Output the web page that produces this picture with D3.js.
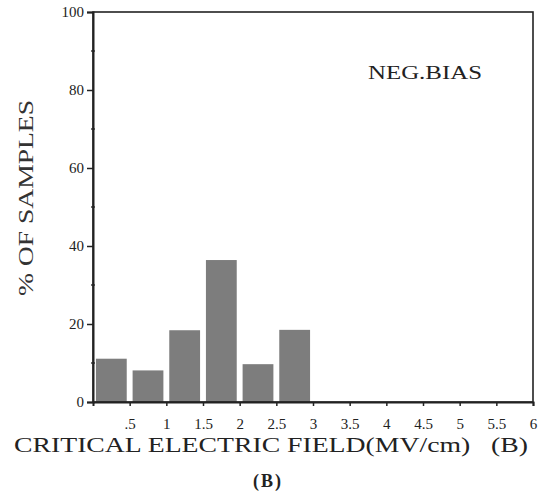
<!DOCTYPE html>
<html>
<head>
<meta charset="utf-8">
<script src="https://cdn.jsdelivr.net/npm/d3@7"></script>
<style>
  body { margin: 0; background: #fff; }
  text { font-family: "Liberation Serif", serif; fill: #222; }
</style>
</head>
<body>
<div id="chart"></div>
<script>
const svgWidth = 542
const svgHeight = 500

// bins of 0.5 MV/cm, value = % of samples
const binStarts = [0, 0.5, 1, 1.5, 2, 2.5]
const percents = [11.1, 8.1, 18.4, 36.4, 9.7, 18.5]
const xTicks = [0.5, 1, 1.5, 2, 2.5, 3, 3.5, 4, 4.5, 5, 5.5, 6]
const xTickLabels = [".5", "1", "1.5", "2", "2.5", "3", "3.5", "4", "4.5", "5", "5.5", "6"]
const yTicks = [0, 20, 40, 60, 80, 100]
const yMinorTicks = [10, 30, 50, 70, 90]

let margin = { top: 12, right: 9, bottom: 98, left: 93 }

let svg = d3.select("#chart")
  .append("svg")
  .attr("width", svgWidth)
  .attr("height", svgHeight)

let x = d3.scaleLinear()
  .domain([0, 6])
  .range([margin.left, svgWidth - margin.right])

let y = d3.scaleLinear()
  .domain([0, 100])
  .range([svgHeight - margin.bottom, margin.top])

// bars
svg.append("g")
  .selectAll("rect")
  .data(binStarts)
  .enter()
  .append("rect")
  .attr("x", d => x(d + 0.04))
  .attr("width", d => x(d + 0.46) - x(d + 0.04))
  .attr("y", (d, i) => y(percents[i]))
  .attr("height", (d, i) => y(0) - y(percents[i]))
  .attr("fill", "#7d7d7d")

// frame
svg.append("rect")
  .attr("x", x(0))
  .attr("y", y(100))
  .attr("width", x(6) - x(0))
  .attr("height", y(0) - y(100))
  .attr("fill", "none")
  .attr("stroke", "#222")
  .attr("stroke-width", 1.6)

// x axis
let xAxis = d3.axisBottom(x)
  .tickValues(xTicks)
  .tickSize(4)
  .tickFormat((d, i) => xTickLabels[i])

let xg = svg.append("g")
  .attr("transform", `translate(0, ${y(0)})`)
  .call(xAxis)
xg.select(".domain").attr("stroke", "#222").attr("stroke-width", 2)
xg.selectAll(".tick line").attr("stroke", "#222").attr("stroke-width", 1.5)
xg.selectAll(".tick text")
  .attr("y", 16)
  .attr("dy", "0.71em")
  .style("font-family", "'Liberation Serif', serif")
  .style("font-size", "15px")
  .attr("fill", "#222")

// y axis
let yAxis = d3.axisLeft(y)
  .tickValues(yTicks)
  .tickSize(6)
  .tickPadding(3)

let yg = svg.append("g")
  .attr("transform", `translate(${x(0)}, 0)`)
  .call(yAxis)
yg.select(".domain").attr("stroke", "#222").attr("stroke-width", 2)
yg.selectAll(".tick line").attr("stroke", "#222").attr("stroke-width", 1.5)
yg.selectAll(".tick text")
  .style("font-family", "'Liberation Serif', serif")
  .style("font-size", "15px")
  .attr("fill", "#222")

svg.append("g")
  .selectAll("line")
  .data(yMinorTicks)
  .enter()
  .append("line")
  .attr("x1", x(0) - 2)
  .attr("x2", x(0) + 2)
  .attr("y1", d => y(d))
  .attr("y2", d => y(d))
  .attr("stroke", "#222")
  .attr("stroke-width", 1.3)

// labels
svg.append("text")
  .attr("x", 425)
  .attr("y", 79)
  .attr("text-anchor", "middle")
  .attr("textLength", 114)
  .attr("lengthAdjust", "spacingAndGlyphs")
  .style("font-size", "19px")
  .text("NEG.BIAS")

svg.append("text")
  .attr("transform", `translate(33, 198) rotate(-90)`)
  .attr("text-anchor", "middle")
  .attr("textLength", 196)
  .attr("lengthAdjust", "spacingAndGlyphs")
  .style("font-size", "20px")
  .style("fill", "#333")
  .text("% OF SAMPLES")

svg.append("text")
  .attr("x", 14)
  .attr("y", 452)
  .attr("textLength", 514)
  .attr("lengthAdjust", "spacingAndGlyphs")
  .style("font-size", "20px")
  .style("white-space", "pre")
  .text("CRITICAL ELECTRIC FIELD(MV/cm)   (B)")

svg.append("text")
  .attr("x", 268)
  .attr("y", 487)
  .attr("text-anchor", "middle")
  .style("font-size", "18px")
  .style("font-weight", "bold")
  .style("letter-spacing", "2px")
  .style("white-space", "pre")
  .text("(B)")
</script>
</body>
</html>
